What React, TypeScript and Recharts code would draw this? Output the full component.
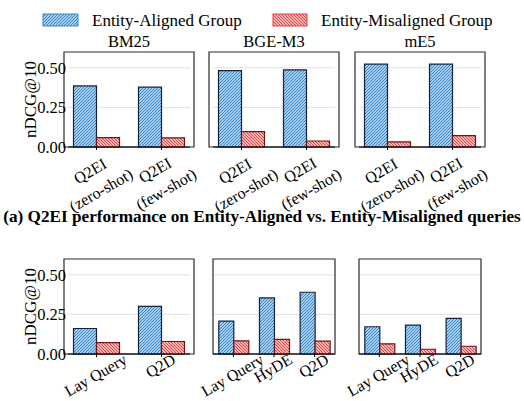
import React from 'react';
import { BarChart, Bar, XAxis, YAxis, CartesianGrid, ReferenceArea, Label } from 'recharts';

// values (nDCG@10)
const topCategories = ['Q2EI\n(zero-shot)', 'Q2EI\n(few-shot)'];
const bm25Aligned = [0.386, 0.378];
const bm25Misaligned = [0.059, 0.058];
const bgeAligned = [0.483, 0.487];
const bgeMisaligned = [0.097, 0.038];
const me5Aligned = [0.523, 0.523];
const me5Misaligned = [0.032, 0.072];

const bm25BottomCategories = ['Lay Query', 'Q2D'];
const bm25BottomAligned = [0.161, 0.301];
const bm25BottomMisaligned = [0.072, 0.079];
const denseBottomCategories = ['Lay Query', 'HyDE', 'Q2D'];
const bgeBottomAligned = [0.208, 0.354, 0.39];
const bgeBottomMisaligned = [0.083, 0.093, 0.081];
const me5BottomAligned = [0.172, 0.182, 0.225];
const me5BottomMisaligned = [0.064, 0.03, 0.049];

const yTicks = [0, 0.25, 0.5];
const panelTitles = ['BM25', 'BGE-M3', 'mE5'];
const seriesNames = ['Entity-Aligned Group', 'Entity-Misaligned Group'];
const caption = '(a) Q2EI performance on Entity-Aligned vs. Entity-Misaligned queries';

const FONT = "'Liberation Serif', serif";
const PLOT_W = 122;
const PLOT_H = 95;
const PANEL_X = [68, 213, 359];
const ROW_Y = [52, 259];

let ctx: CanvasRenderingContext2D | null = null;
const measure = (s: string, size: number) => {
  if (!ctx) ctx = document.createElement('canvas').getContext('2d');
  if (!ctx) return s.length * size * 0.45;
  ctx.font = `${size}px 'Liberation Serif', serif`;
  return ctx.measureText(s).width;
};

const txt = (size: number, bold = false): React.CSSProperties => ({
  fontFamily: FONT,
  fontSize: size,
  fontWeight: bold ? 'bold' : 'normal',
});

// x tick label rotated 30deg, centred under the tick like matplotlib's ha='center'
const RotTick = (props: any) => {
  const { x, y, payload } = props;
  const size = 16;
  const lineH = 22;
  const lines = String(payload.value).split('\n');
  const w = Math.max(...lines.map((l) => measure(l, size)));
  const h = lines.length === 1 ? size : lines.length * lineH;
  const bh = w * 0.5 + h * 0.866;
  const cy = y + bh / 2 - 8;
  return (
    <g transform={`translate(${x - 1},${cy}) rotate(-30)`}>
      {lines.map((l, i) => (
        <text key={i} x={0} y={(i - (lines.length - 1) / 2) * lineH} textAnchor="middle" dominantBaseline="central"
          style={txt(size)} fill="#000">{l}</text>
      ))}
    </g>
  );
};

interface PanelProps {
  categories: string[];
  aligned: number[];
  misaligned: number[];
  col: number;
  row: number;
  showY: boolean;
}

const Panel: React.FC<PanelProps> = ({ categories, aligned, misaligned, col, row, showY }) => {
  const data = categories.map((name, i) => ({ name, aligned: aligned[i], misaligned: misaligned[i] }));
  const L = showY ? 68 : 30;
  const R = 30, T = 10, B = 80;
  const two = categories.length === 2;
  return (
    <div style={{ position: 'absolute', left: PANEL_X[col] - L, top: ROW_Y[row] - T }}>
      <BarChart width={L + PLOT_W + R} height={T + PLOT_H + B} data={data}
        margin={{ top: T, right: R, bottom: 0, left: showY ? 0 : L }}
        barGap={0} barCategoryGap={two ? 9.5 : 5.8}>
        <CartesianGrid vertical={false} horizontalValues={[0.25, 0.5]} stroke="#e2e2e2" strokeWidth={1} />
        <XAxis dataKey="name" height={B} interval={0} padding={two ? { left: -4, right: -4 } : { left: 0, right: 0 }}
          axisLine={{ stroke: '#000', strokeWidth: 1.2 }} tickLine={{ stroke: '#000' }} tickSize={3} tickMargin={2}
          tick={(p: any) => <RotTick {...p} />} />
        <YAxis hide={!showY} width={68} domain={[0, 0.6]} ticks={yTicks} axisLine={false} tickLine={false}
          tickSize={0} tickMargin={2} tickFormatter={(v: number) => v.toFixed(2)}
          tick={{ fill: '#000', fontSize: 16.5, style: txt(16.5) }}>
          {showY && (
            <Label content={(lp: any) => {
              const vb = lp.viewBox || { x: 0, y: 0, height: PLOT_H };
              const cx = vb.x + 30;
              const cy = vb.y + vb.height / 2;
              return (
                <text x={cx} y={cy} transform={`rotate(-90, ${cx}, ${cy})`} textAnchor="middle" dominantBaseline="central"
                  style={txt(17)} fill="#000">nDCG@10</text>
              );
            }} />
          )}
        </YAxis>
        <Bar dataKey="aligned" fill="url(#hatchBlue)" stroke="#13223a" strokeWidth={1.2} isAnimationActive={false} />
        <Bar dataKey="misaligned" fill="url(#hatchRed)" stroke="#6a1616" strokeWidth={1.2} isAnimationActive={false} />
        <ReferenceArea y1={0} y2={0.6} fill="none" fillOpacity={0} stroke="#2a2a2a" strokeWidth={1.2} ifOverflow="visible" />
      </BarChart>
    </div>
  );
};

const App: React.FC = () => {
  return (
    <div style={{ position: 'absolute', left: 0, top: 0, width: 524, height: 401, background: '#fff', overflow: 'hidden', fontFamily: FONT }}>
      <svg width={524} height={401} style={{ position: 'absolute', left: 0, top: 0 }}>
        <defs>
          <pattern id="hatchBlue" patternUnits="userSpaceOnUse" width={3} height={3}>
            <rect width={3} height={3} fill="#a6cff0" />
            <path d="M-1,1 l2,-2 M0,3 l3,-3 M2,4 l2,-2" stroke="#2a78c2" strokeWidth={0.9} />
          </pattern>
          <pattern id="hatchRed" patternUnits="userSpaceOnUse" width={3} height={3}>
            <rect width={3} height={3} fill="#f7b6b6" />
            <path d="M-1,2 l2,2 M0,0 l3,3 M2,-1 l2,2" stroke="#e03434" strokeWidth={0.9} />
          </pattern>
        </defs>
        {/* legend */}
        <rect x={43} y={14} width={35} height={12} fill="url(#hatchBlue)" stroke="#3a86c8" strokeWidth={1} />
        <text x={92} y={26} style={txt(17)} fill="#000">{seriesNames[0]}</text>
        <rect x={273} y={14} width={34} height={12} fill="url(#hatchRed)" stroke="#e04040" strokeWidth={1} />
        <text x={321} y={26} style={txt(17)} fill="#000">{seriesNames[1]}</text>
        {panelTitles.map((t, i) => (
          <text key={t} x={PANEL_X[i] + PLOT_W / 2} y={47} textAnchor="middle" style={txt(16.5)} fill="#000">{t}</text>
        ))}
        <text x={262} y={222} textAnchor="middle" style={txt(17.2, true)} fill="#000">{caption}</text>
      </svg>
      <Panel categories={topCategories} aligned={bm25Aligned} misaligned={bm25Misaligned} col={0} row={0} showY />
      <Panel categories={topCategories} aligned={bgeAligned} misaligned={bgeMisaligned} col={1} row={0} showY={false} />
      <Panel categories={topCategories} aligned={me5Aligned} misaligned={me5Misaligned} col={2} row={0} showY={false} />
      <Panel categories={bm25BottomCategories} aligned={bm25BottomAligned} misaligned={bm25BottomMisaligned} col={0} row={1} showY />
      <Panel categories={denseBottomCategories} aligned={bgeBottomAligned} misaligned={bgeBottomMisaligned} col={1} row={1} showY={false} />
      <Panel categories={denseBottomCategories} aligned={me5BottomAligned} misaligned={me5BottomMisaligned} col={2} row={1} showY={false} />
    </div>
  );
};

export default App;
